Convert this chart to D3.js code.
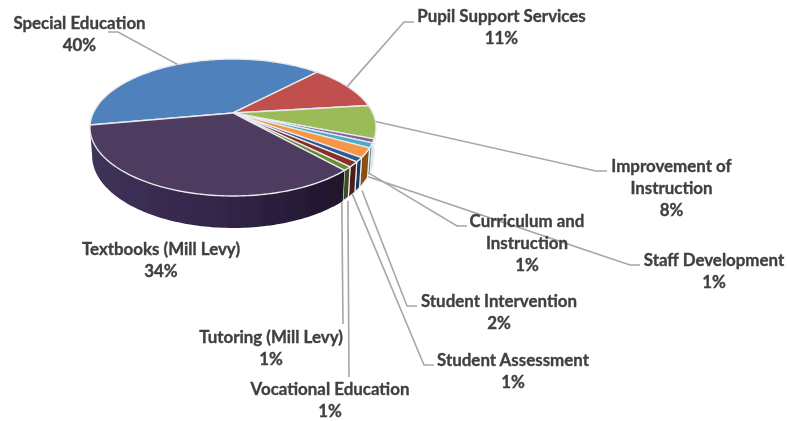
<!DOCTYPE html>
<html><head><meta charset="utf-8">
<script src="https://cdn.jsdelivr.net/npm/d3@7"></script>
<style>html,body{margin:0;background:#fff}svg{display:block}</style></head>
<body><svg id="c" width="787" height="421"></svg>
<script>
// Data
const categories = ["Special Education","Pupil Support Services","Improvement of Instruction","Staff Development","Curriculum and Instruction","Student Intervention","Student Assessment","Vocational Education","Tutoring (Mill Levy)","Textbooks (Mill Levy)"];
const values = [39.9,10.9,7.8,0.9,1.1,2.2,1.0,1.2,0.9,33.8];
const percentLabels = ["40%","11%","8%","1%","1%","2%","1%","1%","1%","34%"];
const labelLines = [["Special Education"],["Pupil Support Services"],["Improvement of","Instruction"],["Staff Development"],["Curriculum and","Instruction"],["Student Intervention"],["Student Assessment"],["Vocational Education"],["Tutoring (Mill Levy)"],["Textbooks (Mill Levy)"]];
const topColors = ["#4f81bd","#c0504d","#9bbb59","#8064a2","#4bacc6","#f79646","#2c5c94","#8a2e2c","#6a8a35","#4d3a60"];
const wallColors = ["#3a6090","#8f3b39","#748c42","#5f4b79","#5a93a8","#8a4f14","#1d3d63","#4f1d1c","#3f4e20","url(#wall)"];
// Layout
const labelCenters = [[79.5,23],[501.5,16.5],[671.5,166],[714,260],[527,221],[499,301],[513,360],[330,389],[271,337],[161,249]];
const leaderBends = [[[118,32],[108,32]],[[404,22],[414,22]],[[596,171],[607,171]],[[630,265],[640,265]],[[457,226],[467,226]],[[407,306],[417,306]],[[424,365],[434,365]],[[349,377]],[[343,324]],null];
const leaderDepth = [0,0,0,1,1,1,1,1,1,null];
const leaderShift = [[0,0],[0,0],[0,0],[-3,7],[-1,-2],[-2,8],[-5,4],[-3.8,6],[-3.8,3],[0,0]];

const svg = d3.select("#c");
const defs = svg.append("defs");
const grad = defs.append("linearGradient").attr("id","wall").attr("gradientUnits","userSpaceOnUse").attr("x1",89).attr("x2",345).attr("y1",0).attr("y2",0);
grad.append("stop").attr("offset",0).attr("stop-color","#3f3259");
grad.append("stop").attr("offset",0.5).attr("stop-color","#33264a");
grad.append("stop").attr("offset",1).attr("stop-color","#1f142b");
defs.append("filter").attr("id","soft").append("feGaussianBlur").attr("stdDeviation",0.45);
defs.append("filter").attr("id","softText").append("feGaussianBlur").attr("stdDeviation",0.3);

// perspective projection of the pie disc
const toRad = d => d*Math.PI/180;
const cx=233, cy=113, K=139.8, Ky=65.4, c=0.2117;
function rim(a, depth=0){
  const x=Math.sin(a), y=-Math.cos(a), w=1-c*y;
  const X=K*x/w, Y=Ky*y/w;
  const s=1-0.015*depth;
  return [cx+X*s, cy+Y+depth*(27+5*y)];
}
const pie = d3.pie().sort(null).value(d=>d).startAngle(toRad(-100.2)).endAngle(toRad(259.8));
const arcs = pie(values);
const line = d3.line();
const samples = (a0,a1)=>{const n=Math.max(2,Math.ceil(Math.abs(a1-a0)/0.02));return d3.range(n+1).map(i=>a0+(a1-a0)*i/n);};

const g = svg.append("g").attr("filter","url(#soft)");
// walls
const wMin=toRad(102), wMax=toRad(258);
g.append("g").selectAll("path").data(arcs).join("path")
 .attr("d",d=>{
   const a0=Math.max(d.startAngle,wMin), a1=Math.min(d.endAngle,wMax);
   if(a1<=a0) return null;
   const ts=samples(a0,a1);
   return line(ts.map(t=>rim(t,0)).concat(ts.slice().reverse().map(t=>rim(t,1))))+"Z";
 })
 .attr("fill",(d,i)=>wallColors[i]).attr("stroke","#eef0f2").attr("stroke-width",(d,i)=>i===9?0:1.2);
// top faces
g.append("g").selectAll("path").data(arcs).join("path")
 .attr("d",d=>line([[cx,cy]].concat(samples(d.startAngle,d.endAngle).map(t=>rim(t,0))))+"Z")
 .attr("fill",(d,i)=>topColors[i]).attr("stroke","#e8eaee").attr("stroke-width",1.4).attr("stroke-linejoin","round");

// leaders
const mid = d=>(d.startAngle+d.endAngle)/2;
svg.append("g").selectAll("polyline").data(arcs.filter((d,i)=>leaderBends[i])).join("polyline")
 .attr("points",d=>{
   const i=d.index, p=rim(mid(d),leaderDepth[i]);
   return [[p[0]+leaderShift[i][0],p[1]+leaderShift[i][1]]].concat(leaderBends[i]).map(q=>q.join(",")).join(" ");
 })
 .attr("fill","none").attr("stroke","#a6a6a6").attr("stroke-width",1.6);

// labels
const fs=16.9;
const lab = svg.append("g").attr("font-family","Lato, 'Open Sans', sans-serif").attr("font-weight",700).attr("font-size",fs).attr("fill","#404040").attr("stroke","#404040").attr("stroke-width",0.35).attr("text-anchor","middle").attr("filter","url(#softText)");
categories.forEach((name,i)=>{
  const rows = labelLines[i].concat([percentLabels[i]]);
  rows.forEach((r,j)=>lab.append("text").attr("x",labelCenters[i][0]).attr("y",labelCenters[i][1]+j*21.8).attr("dy","0.35em").text(r));
});
</script></body></html>
